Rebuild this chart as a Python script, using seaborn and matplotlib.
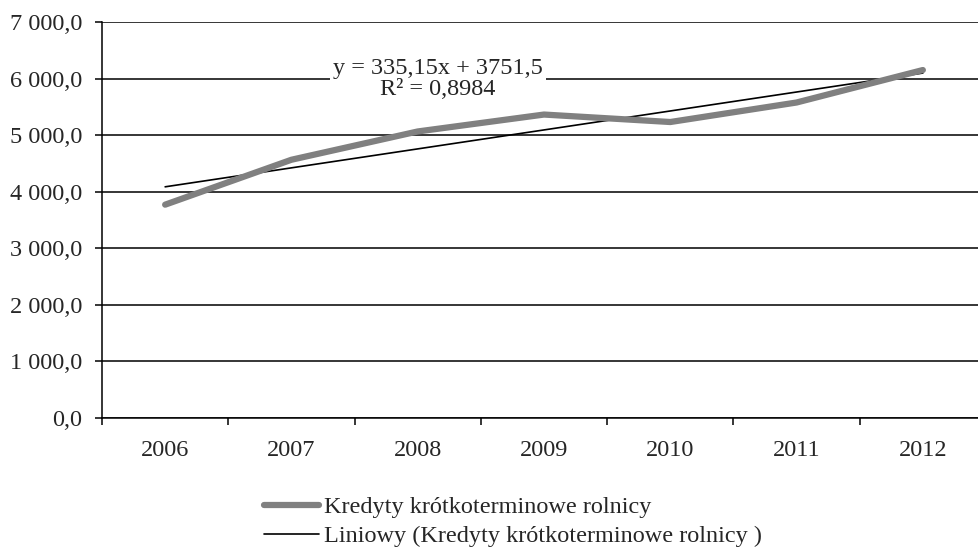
import pandas as pd
import numpy as np
import seaborn as sns
import matplotlib.pyplot as plt
from matplotlib.lines import Line2D
from matplotlib.ticker import FuncFormatter, FixedLocator

# Data
years = ["2006", "2007", "2008", "2009", "2010", "2011", "2012"]
credits = [3771, 4565, 5065, 5364, 5232, 5577, 6151]
trend_slope = 335.15
trend_intercept = 3751.5
series_label = "Kredyty krótkoterminowe rolnicy"
trend_label = "Liniowy (Kredyty krótkoterminowe rolnicy )"
equation_text = "y = 335,15x + 3751,5\nR² = 0,8984"

sns.set_style("white")
plt.rcParams["font.family"] = ["Liberation Serif", "DejaVu Serif"]
fs = 17.5

df = pd.DataFrame({"rok": years, "kredyty": credits})
df["pos"] = np.arange(len(years))
df["trend"] = trend_slope * (df["pos"] + 1) + trend_intercept

fig = plt.figure(figsize=(9.79, 5.51), dpi=100)
ax = fig.add_axes([102 / 979, 1 - 418 / 551, 884 / 979, 396 / 551])

# Trend line under the series, data series on top
sns.lineplot(data=df, x="pos", y="trend", color="black", lw=1.2, ax=ax, zorder=3)
sns.lineplot(data=df, x="pos", y="kredyty", color="#808080", lw=4.5, ax=ax,
             zorder=4, solid_capstyle="round", solid_joinstyle="round")

ax.set_xlim(-0.5, len(years) - 0.5)
ax.set_ylim(0, 7000)
ax.set_yticks(np.arange(0, 7001, 1000))
ax.yaxis.set_major_formatter(FuncFormatter(lambda v, p: f"{v:,.1f}".replace(",", " ").replace(".", ",")))
ax.grid(axis="y", color="black", lw=1.1)
ax.set_axisbelow(True)

# Ticks between categories, labels at the centres
ax.xaxis.set_major_locator(FixedLocator(np.arange(-0.5, len(years), 1.0)))
ax.xaxis.set_minor_locator(FixedLocator(df["pos"]))
ax.set_xticklabels([], minor=False)
ax.set_xticklabels(years, minor=True)
ax.tick_params(axis="x", which="major", bottom=True, direction="out", length=5, width=1.1, color="black")
ax.tick_params(axis="x", which="minor", bottom=True, length=0, pad=16, labelsize=fs)
ax.tick_params(axis="y", left=True, direction="out", length=5, width=1.1, color="black", pad=9, labelsize=fs)
ax.set_xlabel("")
ax.set_ylabel("")

for s in ["top", "right"]:
    ax.spines[s].set_visible(False)
for s in ["left", "bottom"]:
    ax.spines[s].set_color("black")
    ax.spines[s].set_linewidth(1.1)

ax.text(2.16, 5990, equation_text, ha="center", va="center", fontsize=fs,
        linespacing=1.0, zorder=5,
        bbox=dict(facecolor="white", edgecolor="none", pad=2))

handles = [
    Line2D([], [], color="#808080", lw=4.5, solid_capstyle="round"),
    Line2D([], [], color="black", lw=1.2),
]
fig.legend(handles, [series_label, trend_label], loc="upper left",
           bbox_to_anchor=(264 / 979, 1 - 496 / 551), frameon=False, fontsize=fs,
           handlelength=2.25, handletextpad=0.2, labelspacing=0.3,
           borderaxespad=0, borderpad=0)

fig.savefig("out.png", dpi=100)
